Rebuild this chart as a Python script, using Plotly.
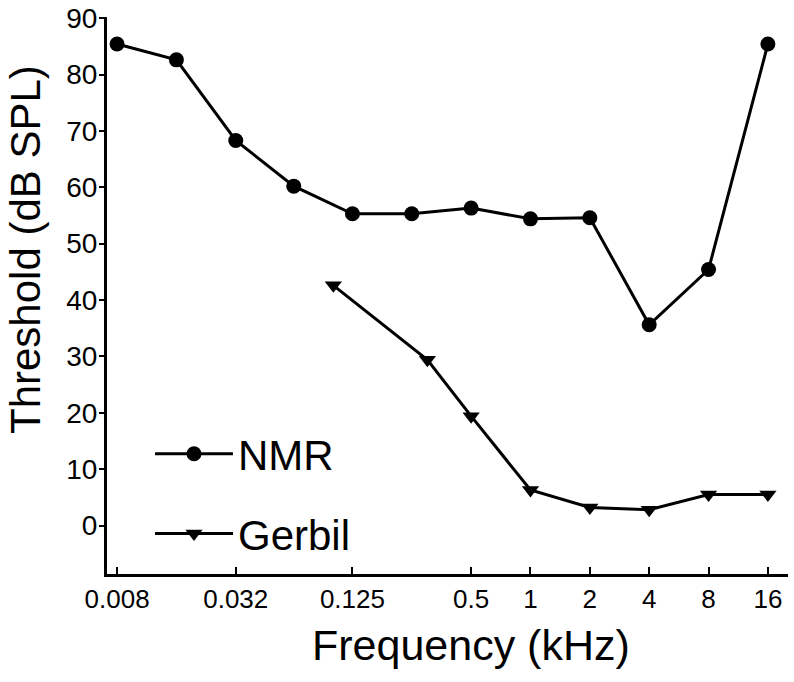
import plotly.graph_objects as go
import math

# Data
nmr_freq = [0.008, 0.016, 0.032, 0.063, 0.125, 0.25, 0.5, 1, 2, 4, 8, 16]
nmr_thr = [85.4, 82.6, 68.3, 60.2, 55.3, 55.3, 56.3, 54.4, 54.6, 35.6, 45.4, 85.4]
gerbil_freq = [0.1, 0.3, 0.5, 1, 2, 4, 8, 16]
gerbil_thr = [42.6, 29.4, 19.4, 6.3, 3.2, 2.8, 5.5, 5.5]
x_tick_vals = [0.008, 0.032, 0.125, 0.5, 1, 2, 4, 8, 16]
x_tick_text = ["0.008", "0.032", "0.125", "0.5", "1", "2", "4", "8", "16"]
y_tick_vals = [0, 10, 20, 30, 40, 50, 60, 70, 80, 90]

FONT = "Liberation Sans, Arial, sans-serif"

W, H = 794, 682
ML, MR, MT, MB = 107, 6, 17, 108
PW, PH = W - ML - MR, H - MT - MB

fig = go.Figure()
fig.add_trace(go.Scatter(
    x=nmr_freq, y=nmr_thr, mode="lines+markers", name="NMR",
    line=dict(color="black", width=3),
    marker=dict(symbol="circle", size=15, color="black"),
    legendgroup="a",
))
fig.add_trace(go.Scatter(
    x=gerbil_freq, y=gerbil_thr, mode="lines+markers", name="Gerbil",
    line=dict(color="black", width=3),
    marker=dict(symbol="triangle-down", size=15, color="black"),
    legendgroup="b",
))

fig.update_layout(
    width=W, height=H,
    margin=dict(l=ML, r=MR, t=MT, b=MB),
    paper_bgcolor="white", plot_bgcolor="white",
    font=dict(family=FONT, color="black"),
    showlegend=True,
    legend=dict(
        x=(150 - ML) / PW, y=(H - MB - 420) / PH, xanchor="left", yanchor="top",
        font=dict(size=42, family=FONT),
        bgcolor="rgba(0,0,0,0)",
        itemwidth=78,
        tracegroupgap=22,
    ),
    xaxis=dict(
        type="log",
        range=[math.log10(0.008) - 0.051, math.log10(16) + 0.102],
        tickvals=x_tick_vals, ticktext=x_tick_text,
        ticks="inside", ticklen=7, tickwidth=2, tickcolor="black",
        showline=True, linecolor="black", linewidth=3,
        showgrid=False, zeroline=False,
        tickfont=dict(size=26, family=FONT),
        ticklabeloverflow="allow",
        automargin=False,
    ),
    yaxis=dict(
        range=[-8.6, 90.2],
        tickvals=y_tick_vals,
        ticks="outside", ticklen=5, tickwidth=2, tickcolor="black",
        showline=True, linecolor="black", linewidth=3,
        showgrid=False, zeroline=False,
        tickfont=dict(size=28, family=FONT),
        ticklabelstandoff=-4,
        ticklabeloverflow="allow",
        automargin=False,
    ),
    annotations=[
        dict(text="Frequency (kHz)", xref="paper", yref="paper",
             x=(471 - ML) / PW, y=-(645 - (H - MB)) / PH,
             xanchor="center", yanchor="middle", showarrow=False,
             font=dict(size=43, family=FONT)),
        dict(text="Threshold (dB SPL)", xref="paper", yref="paper",
             x=-(ML - 25) / PW, y=((H - MB) - 250) / PH,
             xanchor="center", yanchor="middle", showarrow=False,
             textangle=-90, font=dict(size=42, family=FONT)),
    ],
)

fig.write_html("out.html", config={"displayModeBar": False},
               post_script="document.body.style.margin='0';")
